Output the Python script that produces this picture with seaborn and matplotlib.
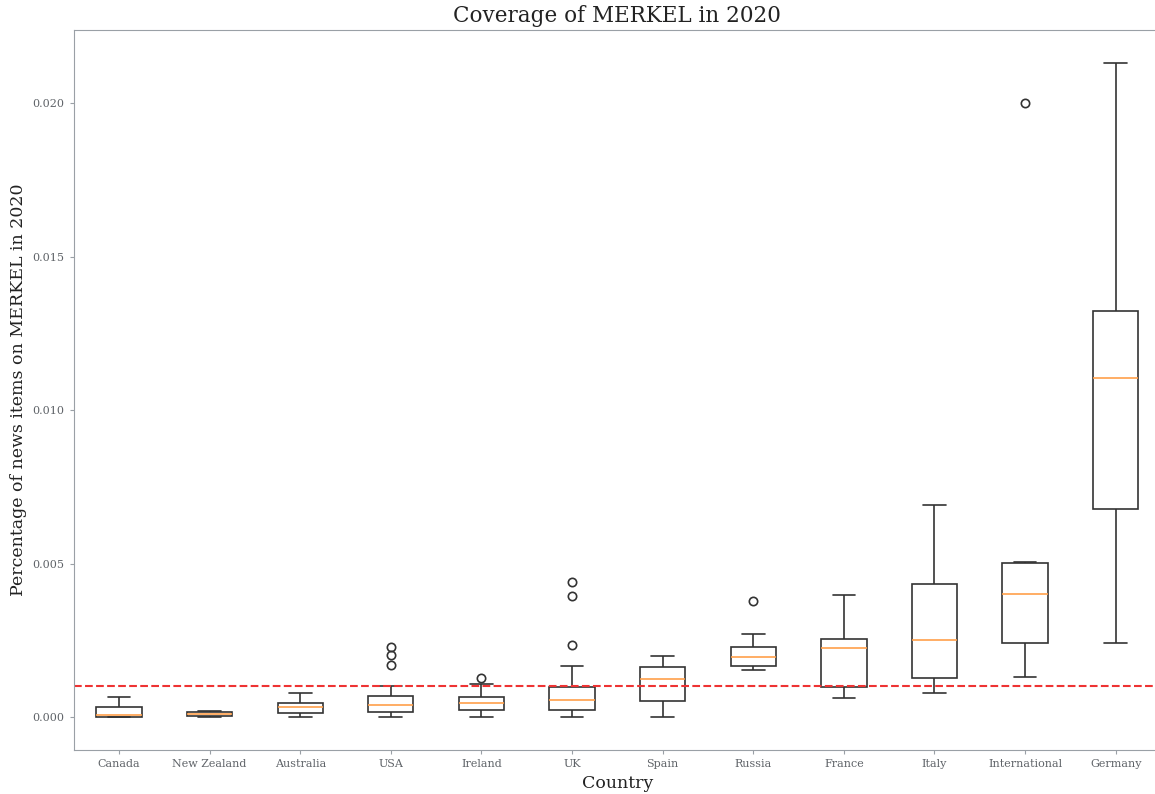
import pandas as pd
import matplotlib.pyplot as plt
import seaborn as sns

# five-number summaries: low whisker, Q1, median, Q3, high whisker
countries = ['Canada', 'New Zealand', 'Australia', 'USA', 'Ireland', 'UK',
             'Spain', 'Russia', 'France', 'Italy', 'International', 'Germany']
low = [0.0, 0.0, 0.0, 0.0, 0.0, 0.0, 0.0, 0.00152, 0.00063, 0.00079, 0.00131, 0.00241]
q1 = [0.0, 0.00003, 0.00015, 0.00017, 0.00024, 0.00024, 0.00051, 0.00166, 0.00099, 0.00126, 0.00243, 0.00679]
median = [0.00007, 0.0001, 0.00033, 0.0004, 0.00045, 0.00056, 0.00123, 0.00195, 0.00225, 0.0025, 0.004, 0.01104]
q3 = [0.00033, 0.00018, 0.00045, 0.00068, 0.00064, 0.00099, 0.00164, 0.00229, 0.00256, 0.00432, 0.00503, 0.01324]
high = [0.00065, 0.0002, 0.0008, 0.00102, 0.00107, 0.00167, 0.002, 0.00272, 0.00397, 0.0069, 0.00506, 0.02131]

# outliers
outlier_country = ['USA', 'USA', 'USA', 'Ireland', 'UK', 'UK', 'UK', 'Russia', 'International']
outlier_value = [0.00227, 0.00202, 0.00169, 0.00126, 0.0044, 0.00393, 0.00234, 0.00377, 0.02001]

reference_level = 0.001

rows = []
for i, c in enumerate(countries):
    for v in (low[i], q1[i], median[i], q3[i], high[i]):
        rows.append({'Country': c, 'value': v})
df = pd.DataFrame(rows)

sns.set_style('ticks')
plt.rcParams['font.family'] = ['DejaVu Serif']
grey = '#9aa0a6'
plt.rcParams['axes.edgecolor'] = grey
plt.rcParams['xtick.color'] = grey
plt.rcParams['ytick.color'] = grey
plt.rcParams['xtick.labelcolor'] = '#5f6368'
plt.rcParams['ytick.labelcolor'] = '#5f6368'

fig = plt.figure(figsize=(11.55, 7.94), dpi=100)
ax = fig.add_axes([0.0638, 0.0554, 0.9414, 0.9066])

sns.boxplot(data=df, x='Country', y='value', order=countries, whis=(0, 100),
            width=0.5, color='white', linecolor='#333333', linewidth=1.2,
            showfliers=False, ax=ax,
            medianprops={'color': '#ff9f4a', 'linewidth': 1.2})

out_pos = [countries.index(c) for c in outlier_country]
ax.plot(out_pos, outlier_value, linestyle='none', marker='o', markersize=6,
        markerfacecolor='none', markeredgecolor='#333333', markeredgewidth=1.2)

ax.axhline(reference_level, color='#ee3333', linestyle='--', linewidth=1.5)

ax.set_xlim(-0.5, len(countries) - 0.5)
ax.set_ylim(-0.00107, 0.02237)
ax.set_yticks([0.0, 0.005, 0.010, 0.015, 0.020])
ax.set_yticklabels(['0.000', '0.005', '0.010', '0.015', '0.020'])
ax.tick_params(labelsize=8, length=3)
ax.spines['right'].set_visible(False)

ax.set_title('Coverage of MERKEL in 2020', fontsize=15.5, color='#222222')
ax.set_xlabel('Country', fontsize=12.5, color='#222222')
ax.set_ylabel('Percentage of news items on MERKEL in 2020', fontsize=12.5, color='#222222')

fig.savefig('out.png', dpi=100)
